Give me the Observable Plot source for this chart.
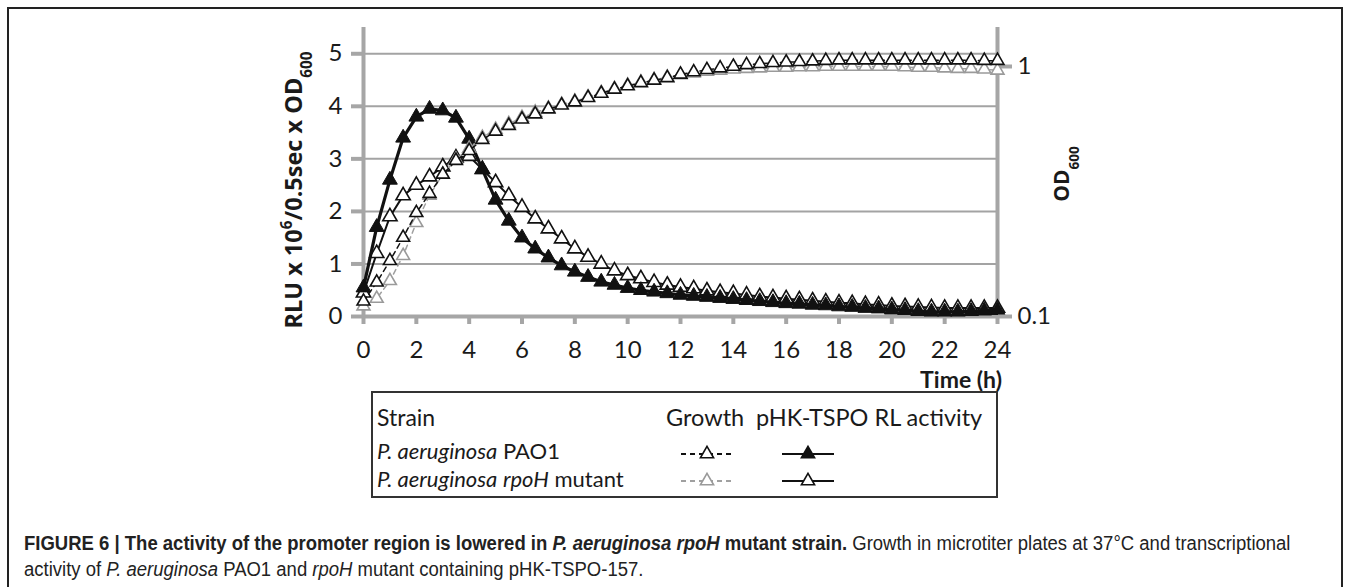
<!DOCTYPE html>
<html><head><meta charset="utf-8">
<script src="https://cdn.jsdelivr.net/npm/d3@7"></script>
<script src="https://cdn.jsdelivr.net/npm/@observablehq/plot@0.6"></script>
<style>
html,body{margin:0;padding:0;background:#fff;overflow:hidden;}
#wrap{position:relative;width:1357px;height:587px;overflow:hidden;background:#fff;}
#frame{position:absolute;left:7px;top:7px;width:1336px;height:640px;border:2px solid #222;box-sizing:border-box;}
.layer{position:absolute;left:0;top:0;}
#caption{position:absolute;left:24px;top:530px;font-family:"Liberation Sans",Arial,sans-serif;font-size:20px;line-height:26px;color:#222;white-space:nowrap;transform:scaleX(0.925);transform-origin:0 0;}
</style></head><body>
<div id="wrap">
  <div id="frame"></div>
  <div id="chartA" class="layer"></div>
  <div id="chartB" class="layer"></div>
  <svg id="over" class="layer" width="1357" height="587"></svg>
  <div id="caption"><b>FIGURE 6 | The activity of the promoter region is lowered in <i>P. aeruginosa rpoH</i> mutant strain.</b> Growth in microtiter plates at 37°C and transcriptional<br>activity of <i>P. aeruginosa</i> PAO1 and <i>rpoH</i> mutant containing pHK-TSPO-157.</div>
</div>
<script>
// ---- data ----
const times = [0,0.5,1,1.5,2,2.5,3,3.5,4,4.5,5,5.5,6,6.5,7,7.5,8,8.5,9,9.5,10,10.5,11,11.5,12,12.5,13,13.5,14,14.5,15,15.5,16,16.5,17,17.5,18,18.5,19,19.5,20,20.5,21,21.5,22,22.5,23,23.5,24];
const xTicks = [0,2,4,6,8,10,12,14,16,18,20,22,24];
const yTicksLeft = [0,1,2,3,4,5];
const yTicksRight = [0.1,1];
// RLU x 10^6 / 0.5 sec x OD600 (left axis)
const rlPAO1 = [0.55,1.7,2.6,3.4,3.8,3.95,3.92,3.78,3.38,2.8,2.22,1.82,1.5,1.29,1.12,0.97,0.85,0.75,0.66,0.6,0.54,0.5,0.47,0.44,0.41,0.39,0.37,0.35,0.33,0.31,0.29,0.27,0.25,0.24,0.22,0.21,0.19,0.18,0.16,0.15,0.13,0.12,0.1,0.09,0.09,0.09,0.1,0.11,0.12];
const rlRpoH = [0.45,1.2,1.9,2.3,2.5,2.66,2.85,3.02,3.05,2.8,2.55,2.3,2.08,1.86,1.67,1.48,1.29,1.13,1.0,0.87,0.78,0.72,0.65,0.6,0.56,0.53,0.49,0.46,0.44,0.41,0.38,0.36,0.34,0.32,0.3,0.28,0.26,0.25,0.23,0.22,0.2,0.19,0.18,0.17,0.16,0.16,0.16,0.16,0.16];
// OD600 (right, log axis)
const odPAO1 = [0.115,0.137,0.167,0.207,0.26,0.31,0.37,0.42,0.46,0.51,0.55,0.58,0.615,0.645,0.675,0.7,0.72,0.75,0.78,0.81,0.835,0.86,0.88,0.9,0.93,0.95,0.97,0.985,1.0,1.015,1.025,1.035,1.04,1.045,1.05,1.055,1.06,1.06,1.06,1.06,1.06,1.06,1.06,1.06,1.06,1.06,1.06,1.055,1.055];
const odRpoH = [0.11,0.118,0.139,0.175,0.237,0.305,0.37,0.425,0.47,0.52,0.56,0.59,0.625,0.655,0.68,0.705,0.725,0.755,0.785,0.815,0.84,0.865,0.885,0.905,0.925,0.94,0.955,0.965,0.975,0.98,0.985,0.99,0.99,0.995,0.995,1.0,1.0,1.0,1.0,1.0,1.0,0.995,0.99,0.99,0.985,0.98,0.98,0.975,0.965];

const rows = vals => times.map((t,i)=>({t, v: vals[i]}));
const W=1357, H=390, mL=363, mR=360, mT=27, mB=74;
const AX="#a6a6a6", TXT="#1a1a1a";
const common = {width:W,height:H,marginLeft:mL,marginRight:mR,marginTop:mT,marginBottom:mB,
  style:{fontFamily:"Lato, sans-serif",fontSize:"24px",color:TXT,background:"transparent",overflow:"visible"}};

const plotA = Plot.plot({...common,
  x:{domain:[0,24],label:null},
  y:{domain:[0,5.5],label:null},
  marks:[
    Plot.ruleY(yTicksLeft.slice(1),{x1:0,x2:24,stroke:"#a3a3a3",strokeWidth:2}),
    Plot.axisX({ticks:xTicks,tickFormat:d=>String(d),tickSize:8,tickPadding:16,stroke:AX,strokeWidth:4,fill:TXT,label:null}),
    Plot.axisY({ticks:yTicksLeft,tickFormat:d=>String(d),tickSize:12,tickPadding:9,stroke:AX,strokeWidth:4,fill:TXT,label:null}),
    Plot.ruleX([0],{y1:0,y2:5.5,stroke:AX,strokeWidth:4}),
    Plot.ruleX([24],{y1:0,y2:5.5,stroke:AX,strokeWidth:4}),
    Plot.ruleY([0],{x1:0,x2:24,stroke:AX,strokeWidth:4}),
    Plot.line(rows(rlRpoH),{x:"t",y:"v",stroke:"#111",strokeWidth:2}),
    Plot.dot(rows(rlRpoH),{x:"t",y:"v",symbol:"triangle",r:5.3,fill:"white",stroke:"#111",strokeWidth:1.6}),
    Plot.line(rows(rlPAO1),{x:"t",y:"v",stroke:"#111",strokeWidth:3.2}),
    Plot.dot(rows(rlPAO1),{x:"t",y:"v",symbol:"triangle",r:5.5,fill:"#111",stroke:"#111",strokeWidth:1}),
  ]
});
document.getElementById("chartA").appendChild(plotA);

const plotB = Plot.plot({...common,
  x:{domain:[0,24],label:null,axis:null},
  y:{type:"log",domain:[0.1,1.432],label:null},
  marks:[
    Plot.axisY({anchor:"right",ticks:yTicksRight,tickFormat:d=>String(d),tickSize:14,tickPadding:6,stroke:AX,strokeWidth:4,fill:TXT,label:null}),
    Plot.line(rows(odRpoH),{x:"t",y:"v",stroke:"#a0a0a0",strokeWidth:1.5,strokeDasharray:"5,4"}),
    Plot.dot(rows(odRpoH),{x:"t",y:"v",symbol:"triangle",r:4.8,fill:"white",stroke:"#9a9a9a",strokeWidth:1.6}),
    Plot.line(rows(odPAO1),{x:"t",y:"v",stroke:"#111",strokeWidth:1.5,strokeDasharray:"5,4"}),
    Plot.dot(rows(odPAO1),{x:"t",y:"v",symbol:"triangle",r:4.8,fill:"white",stroke:"#111",strokeWidth:1.6}),
  ]
});
document.getElementById("chartB").appendChild(plotB);

// ---- titles, legend ----
const svg = d3.select("#over");
// left y title
const lt = svg.append("text").attr("transform","translate(302,190) rotate(-90)")
  .attr("text-anchor","middle").attr("font-family","'Open Sans', sans-serif").attr("font-weight","bold")
  .attr("font-size",23.5).attr("fill",TXT);
lt.append("tspan").text("RLU x 10");
lt.append("tspan").attr("baseline-shift","super").attr("font-size","65%").text("6");
lt.append("tspan").text("/0.5sec x OD");
lt.append("tspan").attr("baseline-shift","sub").attr("font-size","65%").text("600");
// right y title
const rt = svg.append("text").attr("transform","translate(1069,174) rotate(-90)")
  .attr("text-anchor","middle").attr("font-family","'Open Sans', sans-serif").attr("font-weight","bold")
  .attr("font-size",21).attr("fill",TXT);
rt.append("tspan").text("OD");
rt.append("tspan").attr("baseline-shift","sub").attr("font-size","65%").text("600");
// x title
svg.append("text").attr("x",1002).attr("y",388).attr("text-anchor","end")
  .attr("font-family","Lato, sans-serif").attr("font-weight","bold").attr("font-size",23).attr("fill",TXT).text("Time (h)");

// legend
const lg = svg.append("g").attr("font-family","Lato, sans-serif").attr("font-size",22).attr("fill",TXT);
lg.append("rect").attr("x",372).attr("y",392).attr("width",625).attr("height",105)
  .attr("fill","none").attr("stroke","#333").attr("stroke-width",2);
lg.append("text").attr("x",377).attr("y",426).attr("font-size",23).text("Strain");
lg.append("text").attr("x",666).attr("y",426).attr("font-size",23.5).text("Growth");
lg.append("text").attr("x",756).attr("y",426).attr("font-size",23.5).text("pHK-TSPO RL activity");
const r1 = lg.append("text").attr("x",377).attr("y",459).attr("textLength",null);
r1.append("tspan").attr("font-style","italic").text("P. aeruginosa");
r1.append("tspan").text(" PAO1");
const r2 = lg.append("text").attr("x",377).attr("y",487);
r2.append("tspan").attr("font-style","italic").text("P. aeruginosa");
r2.append("tspan").text(" ");
r2.append("tspan").attr("font-style","italic").text("rpoH");
r2.append("tspan").text(" mutant");
const tri = d3.symbol(d3.symbolTriangle, 75);
function sym(cx, cy, dash, lineColor, fill, stroke){
  lg.append("line").attr("x1",cx-26).attr("x2",cx+26).attr("y1",cy).attr("y2",cy)
    .attr("stroke",lineColor).attr("stroke-width",2).attr("stroke-dasharray",dash?"5,4":null);
  lg.append("path").attr("d",tri()).attr("transform",`translate(${cx},${cy})`)
    .attr("fill",fill).attr("stroke",stroke).attr("stroke-width",1.6);
}
sym(707,454,true,"#111","white","#111");
sym(707,481,true,"#a0a0a0","white","#9a9a9a");
sym(808,454,false,"#111","#111","#111");
sym(808,481,false,"#111","white","#111");
</script>
</body></html>
